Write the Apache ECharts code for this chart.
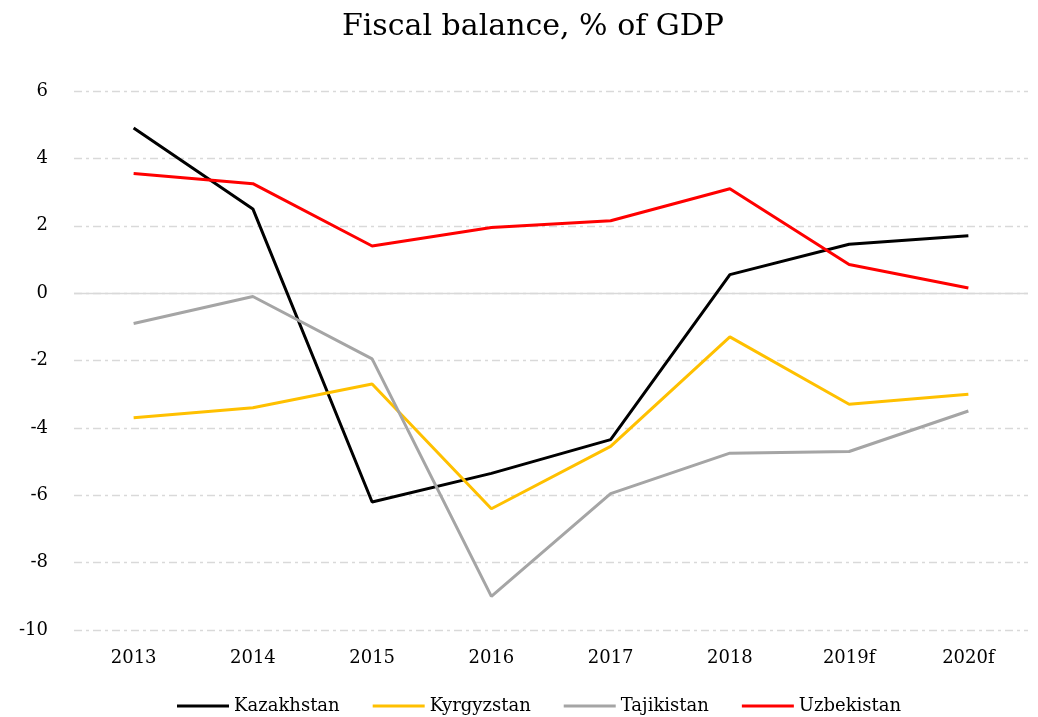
<!DOCTYPE html>
<html>
<head>
<meta charset="utf-8">
<script src="https://cdn.jsdelivr.net/npm/echarts@6/dist/echarts.min.js"></script>
<style>
  html, body { margin: 0; padding: 0; background: #fff; }
  #chart { width: 1038px; height: 717px; }
</style>
</head>
<body>
<div id="chart"></div>
<script>
// Fiscal balance by country, % of GDP (f = forecast)
const years = ['2013', '2014', '2015', '2016', '2017', '2018', '2019f', '2020f'];
const kazakhstan = [4.9, 2.5, -6.2, -5.35, -4.35, 0.55, 1.45, 1.7];
const kyrgyzstan = [-3.7, -3.4, -2.7, -6.4, -4.55, -1.3, -3.3, -3.0];
const tajikistan = [-0.9, -0.1, -1.95, -9.0, -5.95, -4.75, -4.7, -3.5];
const uzbekistan = [3.55, 3.25, 1.4, 1.95, 2.15, 3.1, 0.85, 0.15];
const yTicks = { min: -10, max: 6, step: 2 };

const serif = '"DejaVu Serif", "Liberation Serif", serif';
const chart = echarts.init(document.getElementById('chart'), null, { renderer: 'canvas' });

function line(name, data, color) {
  return {
    name, type: 'line', data,
    symbol: 'none',
    lineStyle: { color, width: 3 },
    itemStyle: { color },
    z: 3
  };
}

const series = [
  line('Kazakhstan', kazakhstan, '#000000'),
  line('Kyrgyzstan', kyrgyzstan, '#ffc000'),
  line('Tajikistan', tajikistan, '#a5a5a5'),
  line('Uzbekistan', uzbekistan, '#ff0000')
];
// solid zero line
series[0].markLine = {
  silent: true, symbol: 'none', label: { show: false },
  lineStyle: { color: '#d9d9d9', type: 'solid', width: 1.3 },
  data: [{ yAxis: 0 }], z: 1
};

chart.setOption({
  animation: false,
  backgroundColor: '#ffffff',
  title: {
    text: 'Fiscal balance, % of GDP',
    left: 528, top: 7, textAlign: 'center',
    textStyle: { fontFamily: serif, fontSize: 30, fontWeight: 'normal', color: '#000' }
  },
  grid: { left: 74, right: 10, top: 91, bottom: 87, containLabel: false },
  legend: {
    bottom: -3, left: 172,
    itemWidth: 52, itemHeight: 14, itemGap: 33,
    icon: 'path://M0,6 L52,6 L52,9 L0,9 Z',
    textStyle: { fontFamily: serif, fontSize: 18, color: '#000' },
    data: ['Kazakhstan', 'Kyrgyzstan', 'Tajikistan', 'Uzbekistan']
  },
  xAxis: {
    type: 'category', data: years, boundaryGap: true,
    axisLine: { show: false }, axisTick: { show: false },
    axisLabel: { fontFamily: serif, fontSize: 18, color: '#000', margin: 19 }
  },
  yAxis: {
    type: 'value', min: yTicks.min, max: yTicks.max, interval: yTicks.step,
    axisLine: { show: false }, axisTick: { show: false },
    axisLabel: { fontFamily: serif, fontSize: 18, color: '#000', margin: 26 },
    splitLine: { lineStyle: { color: '#d9d9d9', width: 1.3, type: [8, 4, 3, 4] } }
  },
  series
});
</script>
</body>
</html>
